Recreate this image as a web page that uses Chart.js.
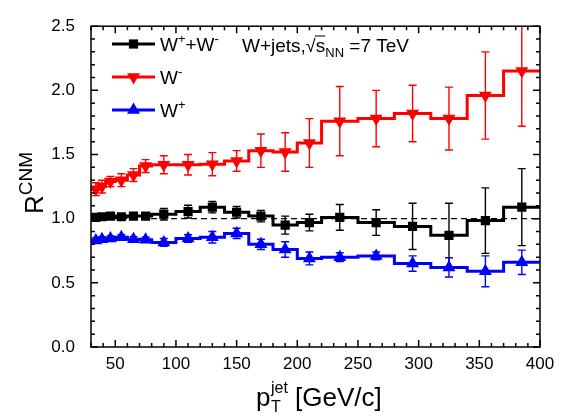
<!DOCTYPE html>
<html lang="en">
<head>
<meta charset="UTF-8">
<title>R CNM for W+jets</title>
<script src="https://cdn.jsdelivr.net/npm/chart.js"></script>
<style>
  html, body { margin: 0; padding: 0; background: #fff; }
</style>
</head>
<body>
<canvas id="chart" width="575" height="417"></canvas>
<script>
// pT bins (GeV/c)
const binEdges = [30, 36, 42, 50, 60, 70, 80, 100, 120, 140, 160, 180, 200, 220, 250, 280, 310, 340, 370, 400];
const binCenters = [34, 39, 46, 55, 65, 75, 90, 110, 130, 150, 170, 190, 210, 235, 265, 295, 325, 355, 385];

// W+ + W-
const rSum = [1.01, 1.015, 1.02, 1.015, 1.02, 1.02, 1.035, 1.055, 1.09, 1.05, 1.02, 0.95, 0.97, 1.01, 0.97, 0.94, 0.87, 0.985, 1.09];
const rSumErr = [0.02, 0.02, 0.02, 0.02, 0.02, 0.025, 0.045, 0.05, 0.045, 0.045, 0.045, 0.07, 0.065, 0.10, 0.10, 0.18, 0.25, 0.255, 0.30];
// W-
const rMinus = [1.23, 1.25, 1.29, 1.30, 1.34, 1.41, 1.42, 1.42, 1.425, 1.45, 1.53, 1.52, 1.59, 1.76, 1.78, 1.82, 1.78, 1.96, 2.15];
const rMinusErr = [0.05, 0.05, 0.04, 0.05, 0.05, 0.05, 0.07, 0.08, 0.09, 0.08, 0.13, 0.15, 0.19, 0.27, 0.22, 0.22, 0.245, 0.34, 0.43];
// W+
const rPlus = [0.83, 0.84, 0.845, 0.855, 0.84, 0.835, 0.815, 0.845, 0.855, 0.885, 0.80, 0.76, 0.69, 0.70, 0.71, 0.65, 0.62, 0.59, 0.66];
const rPlusErr = [0.02, 0.02, 0.02, 0.02, 0.02, 0.02, 0.03, 0.03, 0.045, 0.04, 0.04, 0.06, 0.05, 0.035, 0.03, 0.06, 0.075, 0.12, 0.095];

const xTickVals = [50, 100, 150, 200, 250, 300, 350, 400];
const yTickVals = [0.0, 0.5, 1.0, 1.5, 2.0, 2.5];

const FONT = '"Liberation Sans", Arial, Helvetica, sans-serif';

function stepData(vals) {
    return binEdges.map((e, i) => ({ x: e, y: vals[Math.min(i, vals.length - 1)] }));
}
function pointData(vals) {
    return binCenters.map((c, i) => ({ x: c, y: vals[i] }));
}

const series = [
    { vals: rSum, err: rSumErr, color: '#000000', style: 'rect', radius: 6.5, rotation: 0 },
    { vals: rMinus, err: rMinusErr, color: '#ff0000', style: 'triangle', radius: 7.5, rotation: 180 },
    { vals: rPlus, err: rPlusErr, color: '#0000ff', style: 'triangle', radius: 7.5, rotation: 0 }
];

const datasets = [];
series.forEach(s => {
    datasets.push({
        type: 'scatter', data: pointData(s.vals), errs: s.err, isMarker: true,
        pointStyle: s.style, pointRadius: s.radius, pointRotation: s.rotation,
        backgroundColor: s.color, borderColor: s.color, borderWidth: 0, order: 0
    });
    datasets.push({
        type: 'line', data: stepData(s.vals), stepped: true,
        borderColor: s.color, borderWidth: 3, pointRadius: 0, fill: false, order: 1
    });
});

function drawRuns(ctx, x, y, runs) {
    for (const [t, size, dy] of runs) {
        ctx.font = size + 'px ' + FONT;
        ctx.fillText(t, x, y + dy);
        x += ctx.measureText(t).width;
    }
    return x;
}

const decorPlugin = {
    id: 'decor',
    beforeDatasetsDraw(chart) {
        const ctx = chart.ctx, a = chart.chartArea;
        const xs = chart.scales.x, ys = chart.scales.y;
        ctx.save();
        // dashed reference line at 1
        ctx.strokeStyle = '#000';
        ctx.lineWidth = 1.2;
        ctx.setLineDash([6, 4]);
        const y1 = ys.getPixelForValue(1);
        ctx.beginPath(); ctx.moveTo(a.left, y1); ctx.lineTo(a.right, y1); ctx.stroke();
        ctx.setLineDash([]);
        // error bars
        ctx.beginPath(); ctx.rect(a.left, a.top, a.right - a.left, a.bottom - a.top); ctx.clip();
        chart.data.datasets.forEach(ds => {
            if (!ds.isMarker) return;
            ctx.strokeStyle = ds.borderColor;
            ctx.lineWidth = 1.4;
            ds.data.forEach((p, i) => {
                const px = xs.getPixelForValue(p.x);
                const top = ys.getPixelForValue(p.y + ds.errs[i]);
                const bot = ys.getPixelForValue(p.y - ds.errs[i]);
                ctx.beginPath();
                ctx.moveTo(px, top); ctx.lineTo(px, bot);
                ctx.moveTo(px - 4, top); ctx.lineTo(px + 4, top);
                ctx.moveTo(px - 4, bot); ctx.lineTo(px + 4, bot);
                ctx.stroke();
            });
        });
        ctx.restore();
    },
    afterDraw(chart) {
        const ctx = chart.ctx, a = chart.chartArea;
        const xs = chart.scales.x, ys = chart.scales.y;
        ctx.save();
        ctx.strokeStyle = '#000';
        ctx.lineWidth = 1.5;
        ctx.strokeRect(a.left, a.top, a.right - a.left, a.bottom - a.top);
        // inward ticks on all four sides
        ctx.beginPath();
        for (let v = 30; v <= 400; v += 10) {
            const px = xs.getPixelForValue(v);
            const len = v % 50 === 0 ? 7 : 4;
            ctx.moveTo(px, a.bottom); ctx.lineTo(px, a.bottom - len);
            ctx.moveTo(px, a.top); ctx.lineTo(px, a.top + len);
        }
        for (let k = 0; k <= 25; k++) {
            const py = ys.getPixelForValue(k / 10);
            const len = k % 5 === 0 ? 7 : 4;
            ctx.moveTo(a.left, py); ctx.lineTo(a.left + len, py);
            ctx.moveTo(a.right, py); ctx.lineTo(a.right - len, py);
        }
        ctx.stroke();

        // legend
        ctx.fillStyle = '#000';
        ctx.textBaseline = 'alphabetic';
        const labels = [
            [['W', 19, 0], ['+', 13, -8], ['+W', 19, 0], ['-', 13, -8]],
            [['W', 19, 0], ['-', 13, -8]],
            [['W', 19, 0], ['+', 13, -8]]
        ];
        const rows = [44, 77, 110];
        series.forEach((s, i) => {
            const y = rows[i];
            ctx.strokeStyle = s.color; ctx.lineWidth = 3;
            ctx.beginPath(); ctx.moveTo(112, y); ctx.lineTo(155, y); ctx.stroke();
            ctx.fillStyle = s.color;
            Chart.helpers.drawPoint(ctx, { pointStyle: s.style, radius: s.radius, rotation: s.rotation, borderWidth: 0 }, 133.5, y);
            ctx.fillStyle = '#000';
            drawRuns(ctx, 160, y + 7, labels[i]);
        });

        // annotation W+jets, sqrt(s_NN) = 7 TeV
        let x = drawRuns(ctx, 242, 52, [['W+jets,', 19, 0], ['\u221A', 18, 0]]);
        const sx = x;
        x = drawRuns(ctx, x, 52, [['s', 19, 0]]);
        ctx.strokeStyle = '#000'; ctx.lineWidth = 1;
        ctx.beginPath(); ctx.moveTo(sx - 1, 36); ctx.lineTo(x, 36); ctx.stroke();
        drawRuns(ctx, x, 52, [['NN', 13, 5], [' =7 TeV', 19, 0]]);

        // x title
        drawRuns(ctx, 256, 406, [['p', 26, 0]]);
        drawRuns(ctx, 271, 406, [['T', 16, 6]]);
        drawRuns(ctx, 271, 406, [['jet', 16, -13], [' [GeV/c]', 26, 0]]);

        // y title
        ctx.translate(43, 214);
        ctx.rotate(-Math.PI / 2);
        drawRuns(ctx, 0, 0, [['R', 26, 0], ['CNM', 19, -11]]);
        ctx.restore();
    }
};

new Chart(document.getElementById('chart'), {
    data: { datasets: datasets },
    options: {
        responsive: false,
        animation: false,
        events: [],
        layout: { padding: { left: 0, top: 15, right: 35, bottom: 0 } },
        plugins: { legend: { display: false }, tooltip: { enabled: false } },
        scales: {
            x: {
                type: 'linear', min: 30, max: 400,
                grid: { display: false, drawTicks: false }, border: { display: false },
                afterBuildTicks: s => { s.ticks = xTickVals.map(v => ({ value: v })); },
                afterFit: s => { s.height = 70; },
                ticks: { color: '#000', font: { family: FONT, size: 17 }, padding: 7, maxRotation: 0, autoSkip: false }
            },
            y: {
                type: 'linear', min: 0, max: 2.5,
                grid: { display: false, drawTicks: false }, border: { display: false },
                afterBuildTicks: s => { s.ticks = yTickVals.map(v => ({ value: v })); },
                afterFit: s => { s.width = 91; },
                ticks: { color: '#000', font: { family: FONT, size: 17 }, padding: 16, callback: v => v.toFixed(1) }
            }
        }
    },
    plugins: [decorPlugin]
});
</script>
</body>
</html>
